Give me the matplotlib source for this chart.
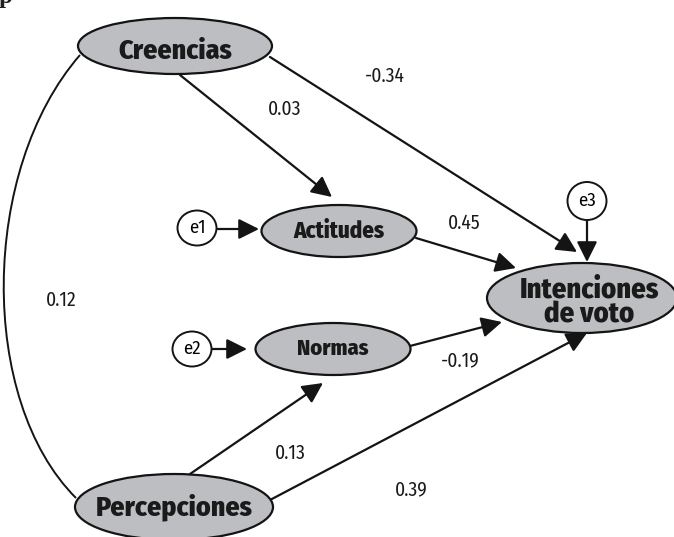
import matplotlib
matplotlib.use("Agg")
import matplotlib.pyplot as plt
from matplotlib.patches import Ellipse, FancyArrowPatch, PathPatch
from matplotlib.path import Path

# Path model: standardized coefficients
nodes = ["Creencias", "Actitudes", "Normas", "Intenciones\nde voto", "Percepciones"]
sources = ["Creencias", "Creencias", "Actitudes", "Normas", "Percepciones", "Percepciones"]
targets = ["Actitudes", "Intenciones\nde voto", "Intenciones\nde voto",
           "Intenciones\nde voto", "Normas", "Intenciones\nde voto"]
coefs = [0.03, -0.34, 0.45, -0.19, 0.13, 0.39]
errors = ["e1", "e2", "e3"]
error_targets = ["Actitudes", "Normas", "Intenciones\nde voto"]
corr_pair = ("Creencias", "Percepciones")
corr_value = 0.12

# layout (pixel space of the picture): x, y, width, height, fontsize, first baseline, line step
node_pos = {
    "Creencias": (175, 46, 194, 56, 20, 59, 0),
    "Actitudes": (339, 231, 155, 52, 16.5, 238, 0),
    "Normas": (333, 349, 155, 52, 16, 355, 0),
    "Intenciones\nde voto": (582, 298, 190, 70, 20.5, 297, 25.5),
    "Percepciones": (174, 507, 198, 66, 20, 515, 0),
}
edge_pts = [((180, 75), (332, 197)),
            ((270, 57), (577, 252)),
            ((416, 238), (516, 268)),
            ((410, 346), (502, 322)),
            ((190, 474), (323, 383)),
            ((270, 500), (587, 333))]
label_pos = [(285, 109), (385, 76), (464, 223), (460, 361), (290, 453), (411, 490)]
err_pos = {"e1": (197, 228, 39, 35), "e2": (192, 349, 39, 35), "e3": (587, 201, 39, 38)}
err_arrow = {"e1": ((216, 229), (259, 229)),
             "e2": ((211, 349), (247, 349)),
             "e3": ((587, 220), (587, 262))}

fig = plt.figure(figsize=(6.74, 5.37), dpi=100)
ax = fig.add_axes([0, 0, 1, 1])
ax.set_xlim(0, 674)
ax.set_ylim(537, 0)
ax.axis("off")

bold_font = ["Fira Sans Condensed", "Roboto Condensed", "Liberation Sans Narrow", "DejaVu Sans"]
num_font = ["Fira Sans Condensed", "Fira Sans", "DejaVu Sans"]
arrow_style = "-|>,head_length=0.62,head_width=0.31"
ink = "#141414"

for name in nodes:
    x, y, w, h, fs, base, step = node_pos[name]
    lines = name.split("\n")
    ax.add_patch(Ellipse((x, y), w, h, facecolor="#bdbec2", edgecolor=ink, lw=1.6, zorder=3))
    for i, line in enumerate(lines):
        ax.text(x + 7 * (len(lines) > 1), base + i * step, line, ha="center",
                va="baseline", fontsize=fs, fontweight="heavy", family=bold_font,
                color="#1a1a1a", zorder=4)

for (p0, p1), val, lp in zip(edge_pts, coefs, label_pos):
    ax.add_patch(FancyArrowPatch(p0, p1, arrowstyle=arrow_style, mutation_scale=20,
                                 shrinkA=0, shrinkB=0, color=ink, lw=1.6, zorder=2))
    ax.text(lp[0], lp[1], f"{val:.2f}", ha="center", va="center", fontsize=14,
            family=num_font, color="#1a1a1a")

for e in errors:
    cx, cy, w, h = err_pos[e]
    ax.add_patch(Ellipse((cx, cy), w, h, facecolor="white", edgecolor=ink, lw=1.4, zorder=3))
    ax.text(cx, cy, e, ha="center", va="center", fontsize=13.5, family=num_font, zorder=4)
    p0, p1 = err_arrow[e]
    ax.add_patch(FancyArrowPatch(p0, p1, arrowstyle=arrow_style, mutation_scale=20,
                                 shrinkA=0, shrinkB=0, color=ink, lw=1.6, zorder=2))

# correlation curve between the two exogenous variables
verts = [(80, 55), (-20, 170), (-22, 400), (76, 498)]
curve = Path(verts, [Path.MOVETO, Path.CURVE4, Path.CURVE4, Path.CURVE4])
ax.add_patch(PathPatch(curve, facecolor="none", edgecolor=ink, lw=1.4, zorder=2))
ax.text(61, 300, f"{corr_value:.2f}", ha="center", va="center", fontsize=14,
        family=num_font, color="#1a1a1a")

# clipped glyph from the page above
ax.text(-1, 3, "p", ha="left", va="baseline", fontsize=18, fontweight="bold",
        family=["Liberation Serif", "DejaVu Serif"], color="#222222")

fig.savefig("out.png", dpi=100)
